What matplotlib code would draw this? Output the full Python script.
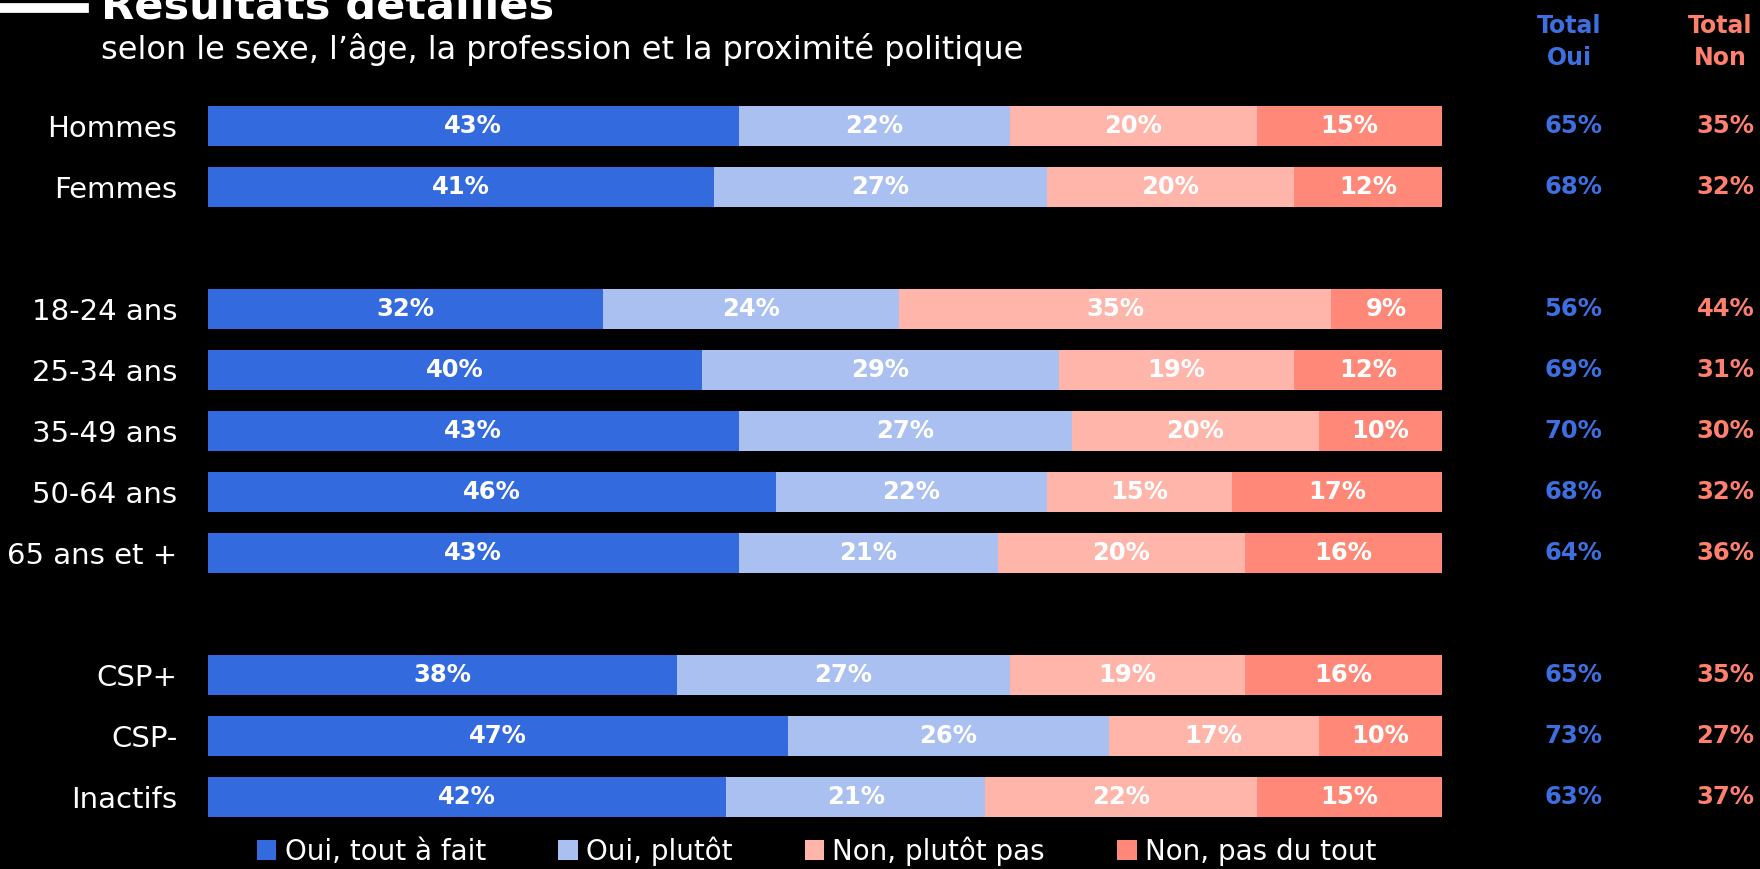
import matplotlib.pyplot as plt
from matplotlib.patches import Patch
from matplotlib.lines import Line2D

plt.rcParams['font.family'] = ['DejaVu Sans']

# Data
groups = ['Hommes', 'Femmes', '18-24 ans', '25-34 ans', '35-49 ans',
          '50-64 ans', '65 ans et +', 'CSP+', 'CSP-', 'Inactifs']
rows = [0, 1, 3, 4, 5, 6, 7, 9, 10, 11]
oui_tout = [43, 41, 32, 40, 43, 46, 43, 38, 47, 42]
oui_plutot = [22, 27, 24, 29, 27, 22, 21, 27, 26, 21]
non_plutot = [20, 20, 35, 19, 20, 15, 20, 19, 17, 22]
non_tout = [15, 12, 9, 12, 10, 17, 16, 16, 10, 15]
total_oui = [65, 68, 56, 69, 70, 68, 64, 65, 73, 63]
total_non = [35, 32, 44, 31, 30, 32, 36, 35, 27, 37]
series_names = ['Oui, tout à fait', 'Oui, plutôt', 'Non, plutôt pas', 'Non, pas du tout']
colors = ['#336ADE', '#AAC0F0', '#FFB5AA', '#FF8878']
blue_txt = '#3D6FE0'
red_txt = '#FF806C'

fig = plt.figure(figsize=(17.6, 8.69), dpi=100, facecolor='black')
ax = fig.add_axes([208 / 1760, 0.0478, 1234 / 1760, 0.8424])
ax.set_facecolor('black')

# Stacked bars
left = [0] * len(groups)
for vals, col in zip([oui_tout, oui_plutot, non_plutot, non_tout], colors):
    ax.barh(rows, vals, left=left, height=0.66, color=col, edgecolor='none')
    for r, v, l in zip(rows, vals, left):
        ax.text(l + v / 2, r, f'{v}%', ha='center', va='center',
                color='white', fontsize=17.5, fontweight='bold')
    left = [a + b for a, b in zip(left, vals)]

# Totals columns
for r, o, n in zip(rows, total_oui, total_non):
    ax.text(113.0, r, f'{o}%', ha='right', va='center', color=blue_txt,
            fontsize=17.5, fontweight='bold', clip_on=False)
    ax.text(125.3, r, f'{n}%', ha='right', va='center', color=red_txt,
            fontsize=17.5, fontweight='bold', clip_on=False)

fig.text(1569 / 1760, 1 - 42 / 869, 'Total\nOui', ha='center', va='center',
         color=blue_txt, fontsize=17, fontweight='bold', linespacing=1.45)
fig.text(1720 / 1760, 1 - 42 / 869, 'Total\nNon', ha='center', va='center',
         color=red_txt, fontsize=17, fontweight='bold', linespacing=1.45)

ax.set_xlim(0, 100)
ax.set_ylim(11.5, -0.5)
ax.set_yticks(rows)
ax.set_yticklabels(groups, color='white', fontsize=21)
ax.tick_params(axis='y', length=0, pad=22)
ax.set_xticks([])
for s in ax.spines.values():
    s.set_visible(False)

# Title and subtitle
fig.add_artist(Line2D([0, 84 / 1760], [1 - 8 / 869, 1 - 8 / 869],
                      color='white', linewidth=7, transform=fig.transFigure))
fig.text(101 / 1760, 1 - 19 / 869, 'Résultats détaillés', ha='left', va='baseline',
         color='white', fontsize=31, fontweight='bold')
fig.text(101 / 1760, 1 - 50 / 869, 'selon le sexe, l’âge, la profession et la proximité politique',
         ha='left', va='center', color='white', fontsize=23)

# Legend
handles = [Patch(facecolor=c, edgecolor='none') for c in colors]
fig.legend(handles, series_names, loc='center', bbox_to_anchor=(0.464, 1 - 851 / 869),
           ncol=4, frameon=False, fontsize=20, labelcolor='white',
           handlelength=0.7, handleheight=0.7, handletextpad=0.3, columnspacing=2.6)

fig.savefig('out.png', dpi=100, facecolor='black')
